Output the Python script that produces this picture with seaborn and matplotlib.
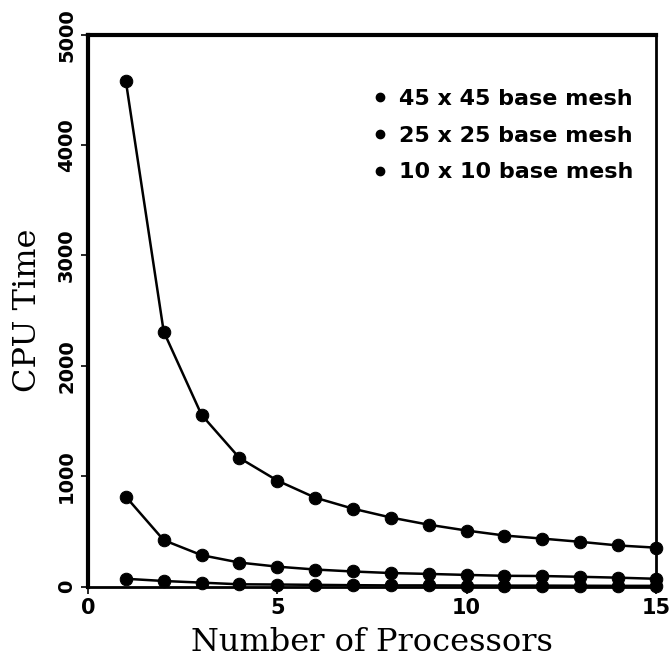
import numpy as np
import pandas as pd
import matplotlib
matplotlib.use("Agg")
import matplotlib.pyplot as plt
import seaborn as sns
from matplotlib.lines import Line2D

sns.set_style("ticks")

# data
processors = list(range(1, 16))
cpu_45 = [4580, 2310, 1555, 1165, 960, 805, 705, 625, 560, 507, 462, 434, 405, 372, 352]
cpu_25 = [814, 420, 284, 217, 180, 154, 136, 122, 114, 105, 97, 95, 88, 80, 70]
cpu_10 = [70, 50, 35, 20, 18, 15, 12, 10, 10, 9, 8, 8, 7, 6, 6]
mesh_labels = ["45 x 45 base mesh", "25 x 25 base mesh", "10 x 10 base mesh"]

df = pd.DataFrame({
    "processors": processors * 3,
    "cpu": cpu_45 + cpu_25 + cpu_10,
    "mesh": [mesh_labels[0]] * 15 + [mesh_labels[1]] * 15 + [mesh_labels[2]] * 15,
})

fig = plt.figure(figsize=(6.69, 6.68), dpi=100)
ax = fig.add_axes([0.1315, 0.122, 0.849, 0.826])

sns.lineplot(data=df, x="processors", y="cpu", units="mesh", estimator=None,
             color="black", linewidth=1.8, marker="o", markersize=9,
             markeredgecolor="black", legend=False, ax=ax, clip_on=False)

ax.set_xlim(0, 15)
ax.set_ylim(0, 5000)
ax.set_xticks([0, 5, 10, 15])
ax.set_yticks([0, 1000, 2000, 3000, 4000, 5000])
ax.tick_params(direction="out", length=5, width=1.2, colors="black", labelcolor="black")

for lab in ax.get_xticklabels():
    lab.set_fontweight("bold")
    lab.set_fontsize(15)
for lab in ax.get_yticklabels():
    lab.set_fontweight("bold")
    lab.set_fontsize(14)
    lab.set_rotation(90)
    lab.set_va("center")

ax.set_xlabel("Number of Processors", family="DejaVu Serif", fontsize=23,
              color="black", labelpad=6)
ax.set_ylabel("CPU Time", family="DejaVu Serif", fontsize=23,
              color="black", labelpad=10)

for side in ["left", "top"]:
    ax.spines[side].set_linewidth(3)
for side in ["right", "bottom"]:
    ax.spines[side].set_linewidth(2)
for sp in ax.spines.values():
    sp.set_color("black")

handles = [Line2D([], [], color="black", marker="o", linestyle="none", markersize=6)
           for _ in mesh_labels]
leg = ax.legend(handles, mesh_labels, loc="upper right", bbox_to_anchor=(0.995, 0.938),
                frameon=False, handlelength=0.5, handletextpad=0.6, labelspacing=0.75,
                prop={"weight": "bold", "size": 16})
for t in leg.get_texts():
    t.set_color("black")

fig.savefig("out.png", dpi=100)
